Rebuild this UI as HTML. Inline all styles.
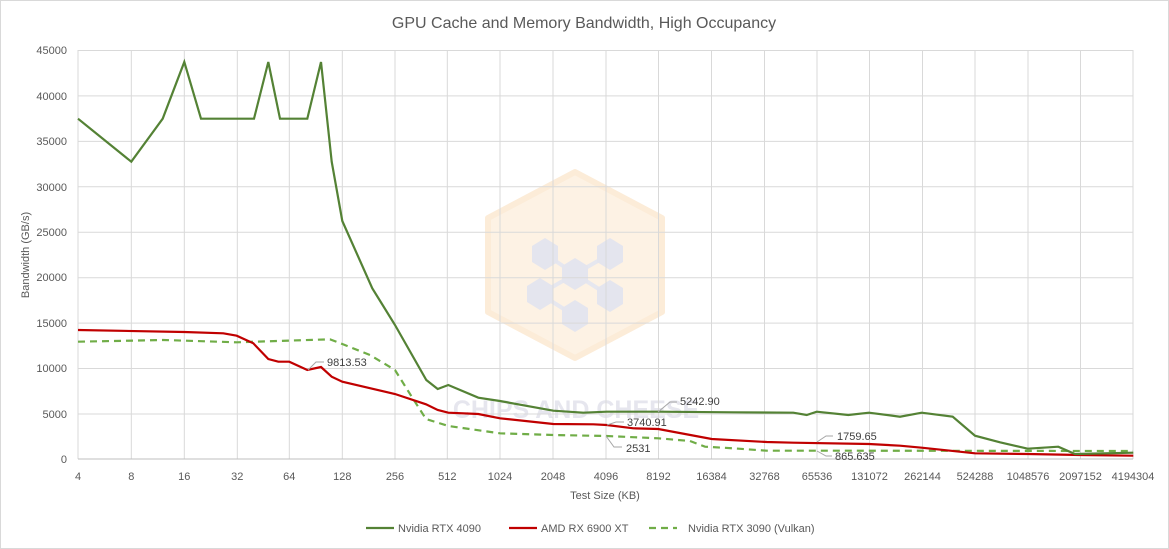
<!DOCTYPE html>
<html><head><meta charset="utf-8"><style>
body{margin:0;background:#fff}
svg{display:block;font-family:"Liberation Sans",sans-serif}
</style></head><body>
<svg width="1169" height="549" viewBox="0 0 1169 549">
<rect x="0.5" y="0.5" width="1168" height="548" fill="#fff" stroke="#d9d9d9"/>
<text x="584" y="28" text-anchor="middle" font-size="16" fill="#595959">GPU Cache and Memory Bandwidth, High Occupancy</text>
<!-- watermark -->
<polygon points="575,172 662,218 662,312 575,358 488,312 488,218" fill="#fdf2e4" stroke="#fcecd8" stroke-width="6" stroke-linejoin="round"/>
<g stroke="#e6e7ef" stroke-width="4">
<line x1="545" y1="254" x2="575" y2="274"/><line x1="610" y1="254" x2="575" y2="274"/><line x1="575" y1="274" x2="540" y2="294"/><line x1="575" y1="274" x2="610" y2="296"/><line x1="575" y1="316" x2="540" y2="294"/>
</g>
<g fill="#e4e5ee">
<polygon points="545,238 558,246 558,262 545,270 532,262 532,246"/>
<polygon points="610,238 623,246 623,262 610,270 597,262 597,246"/>
<polygon points="575,258 588,266 588,282 575,290 562,282 562,266"/>
<polygon points="540,278 553,286 553,302 540,310 527,302 527,286"/>
<polygon points="610,280 623,288 623,304 610,312 597,304 597,288"/>
<polygon points="575,300 588,308 588,324 575,332 562,324 562,308"/>
</g>
<text x="576" y="418" text-anchor="middle" font-size="25" font-weight="bold" fill="#e6e6ee">CHIPS AND CHEESE</text>
<!-- grid -->
<g stroke="#d9d9d9" stroke-width="1">
<line x1="78" y1="50.5" x2="1133" y2="50.5"/><line x1="78" y1="95.9" x2="1133" y2="95.9"/><line x1="78" y1="141.4" x2="1133" y2="141.4"/><line x1="78" y1="186.8" x2="1133" y2="186.8"/><line x1="78" y1="232.2" x2="1133" y2="232.2"/><line x1="78" y1="277.7" x2="1133" y2="277.7"/><line x1="78" y1="323.1" x2="1133" y2="323.1"/><line x1="78" y1="368.5" x2="1133" y2="368.5"/><line x1="78" y1="414" x2="1133" y2="414"/>
<line x1="131.3" y1="50" x2="131.3" y2="459"/><line x1="184.3" y1="50" x2="184.3" y2="459"/><line x1="237.3" y1="50" x2="237.3" y2="459"/><line x1="289.3" y1="50" x2="289.3" y2="459"/><line x1="342.3" y1="50" x2="342.3" y2="459"/><line x1="395" y1="50" x2="395" y2="459"/><line x1="447.3" y1="50" x2="447.3" y2="459"/><line x1="500" y1="50" x2="500" y2="459"/><line x1="553" y1="50" x2="553" y2="459"/><line x1="606" y1="50" x2="606" y2="459"/><line x1="658.5" y1="50" x2="658.5" y2="459"/><line x1="711.5" y1="50" x2="711.5" y2="459"/><line x1="764.5" y1="50" x2="764.5" y2="459"/><line x1="817" y1="50" x2="817" y2="459"/><line x1="869.5" y1="50" x2="869.5" y2="459"/><line x1="922.5" y1="50" x2="922.5" y2="459"/><line x1="975" y1="50" x2="975" y2="459"/><line x1="1028" y1="50" x2="1028" y2="459"/><line x1="1080.5" y1="50" x2="1080.5" y2="459"/><line x1="1133" y1="50" x2="1133" y2="459"/>
<line x1="78" y1="50" x2="78" y2="459"/>
</g>
<line x1="78" y1="459" x2="1133" y2="459" stroke="#bfbfbf"/>
<!-- y labels -->
<g font-size="11" fill="#595959" text-anchor="end">
<text x="67" y="54">45000</text><text x="67" y="100">40000</text><text x="67" y="145">35000</text><text x="67" y="191">30000</text><text x="67" y="236">25000</text><text x="67" y="281">20000</text><text x="67" y="327">15000</text><text x="67" y="372">10000</text><text x="67" y="418">5000</text><text x="67" y="463">0</text>
</g>
<g font-size="11" fill="#595959" text-anchor="middle">
<text x="78" y="480">4</text><text x="131.3" y="480">8</text><text x="184.3" y="480">16</text><text x="237.3" y="480">32</text><text x="289.3" y="480">64</text><text x="342.3" y="480">128</text><text x="395" y="480">256</text><text x="447.3" y="480">512</text><text x="500" y="480">1024</text><text x="553" y="480">2048</text><text x="606" y="480">4096</text><text x="658.5" y="480">8192</text><text x="711.5" y="480">16384</text><text x="764.5" y="480">32768</text><text x="817" y="480">65536</text><text x="869.5" y="480">131072</text><text x="922.5" y="480">262144</text><text x="975" y="480">524288</text><text x="1028" y="480">1048576</text><text x="1080.5" y="480">2097152</text><text x="1133" y="480">4194304</text>
</g>
<text x="605" y="499" text-anchor="middle" font-size="11" fill="#595959">Test Size (KB)</text>
<text transform="translate(29,255) rotate(-90)" text-anchor="middle" font-size="11" fill="#595959">Bandwidth (GB/s)</text>
<!-- series -->
<polyline fill="none" stroke="#70ad47" stroke-width="2.2" stroke-dasharray="7,5" points="78,341.7 163.3,340 236.7,342.3 330,339.3 342.3,344 370,355 395,370 411.7,396.7 426,419 448.3,426 500,433.3 553.3,435 606.7,436 658.3,438.3 690,441 705,446.7 733.3,448.3 766.7,450.7 850,450.7 1133,451"/>
<polyline fill="none" stroke="#c00000" stroke-width="2.2" points="78,330 184.3,332 223.3,333.3 236.7,335.7 253.3,343.3 268.3,359 278.3,361.7 289.3,361.7 307.3,370 321,367 331.7,376.7 342.3,381.7 395,394 426,404.3 437.7,410 448.3,412.7 478.3,414 500,418.3 553.3,424 593.3,424.3 606.7,425 633.3,428.3 658.3,429 711.7,439 766.7,442 793.3,442.7 869,444 900,445.7 921.7,447.7 975,453.3 1027.7,454 1080,455 1133.3,455.7"/>
<polyline fill="none" stroke="#548235" stroke-width="2.2" points="78,118.7 131.3,161.7 162.7,118.7 184.3,62 201,118.7 254,118.7 268.3,62 280,118.7 307.3,118.7 321,62 331.7,161.7 342.3,221 372.3,288.3 395,325 426.3,380 437.7,389 448.3,385 478.3,397.7 500,401 553.3,410.7 583.3,412.7 606.7,411.7 658.3,411.7 733,412.3 793.3,412.7 806.7,415 816.7,411.7 848.3,415 869,412.7 900,416.7 921.7,412.7 952.7,416.7 975,435.7 1000,442.3 1027.7,448.7 1058.3,446.7 1075,454 1133.3,452.7"/>
<!-- data labels -->
<g fill="none" stroke="#a6a6a6" stroke-width="1">
<polyline points="308,370 316,362 324,362"/>
<polyline points="658,412 670,402 677,402"/>
<polyline points="607,425 616,422 624,422"/>
<polyline points="606,436 614,447 622,447"/>
<polyline points="817,442 826,436 833,436"/>
<polyline points="817,451 826,456 832,456"/>
</g>
<g font-size="11" fill="#404040">
<text x="327" y="366">9813.53</text>
<text x="680" y="405">5242.90</text>
<text x="627" y="426">3740.91</text>
<text x="626" y="452">2531</text>
<text x="837" y="440">1759.65</text>
<text x="835" y="460">865.635</text>
</g>
<!-- legend -->
<line x1="366" y1="528" x2="394" y2="528" stroke="#548235" stroke-width="2.2"/>
<text x="398" y="532" font-size="11" fill="#595959">Nvidia RTX 4090</text>
<line x1="509" y1="528" x2="537" y2="528" stroke="#c00000" stroke-width="2.2"/>
<text x="541" y="532" font-size="11" fill="#595959">AMD RX 6900 XT</text>
<line x1="649" y1="528" x2="677" y2="528" stroke="#70ad47" stroke-width="2.2" stroke-dasharray="7,5"/>
<text x="688" y="532" font-size="11" fill="#595959">Nvidia RTX 3090 (Vulkan)</text>
</svg>
</body></html>
